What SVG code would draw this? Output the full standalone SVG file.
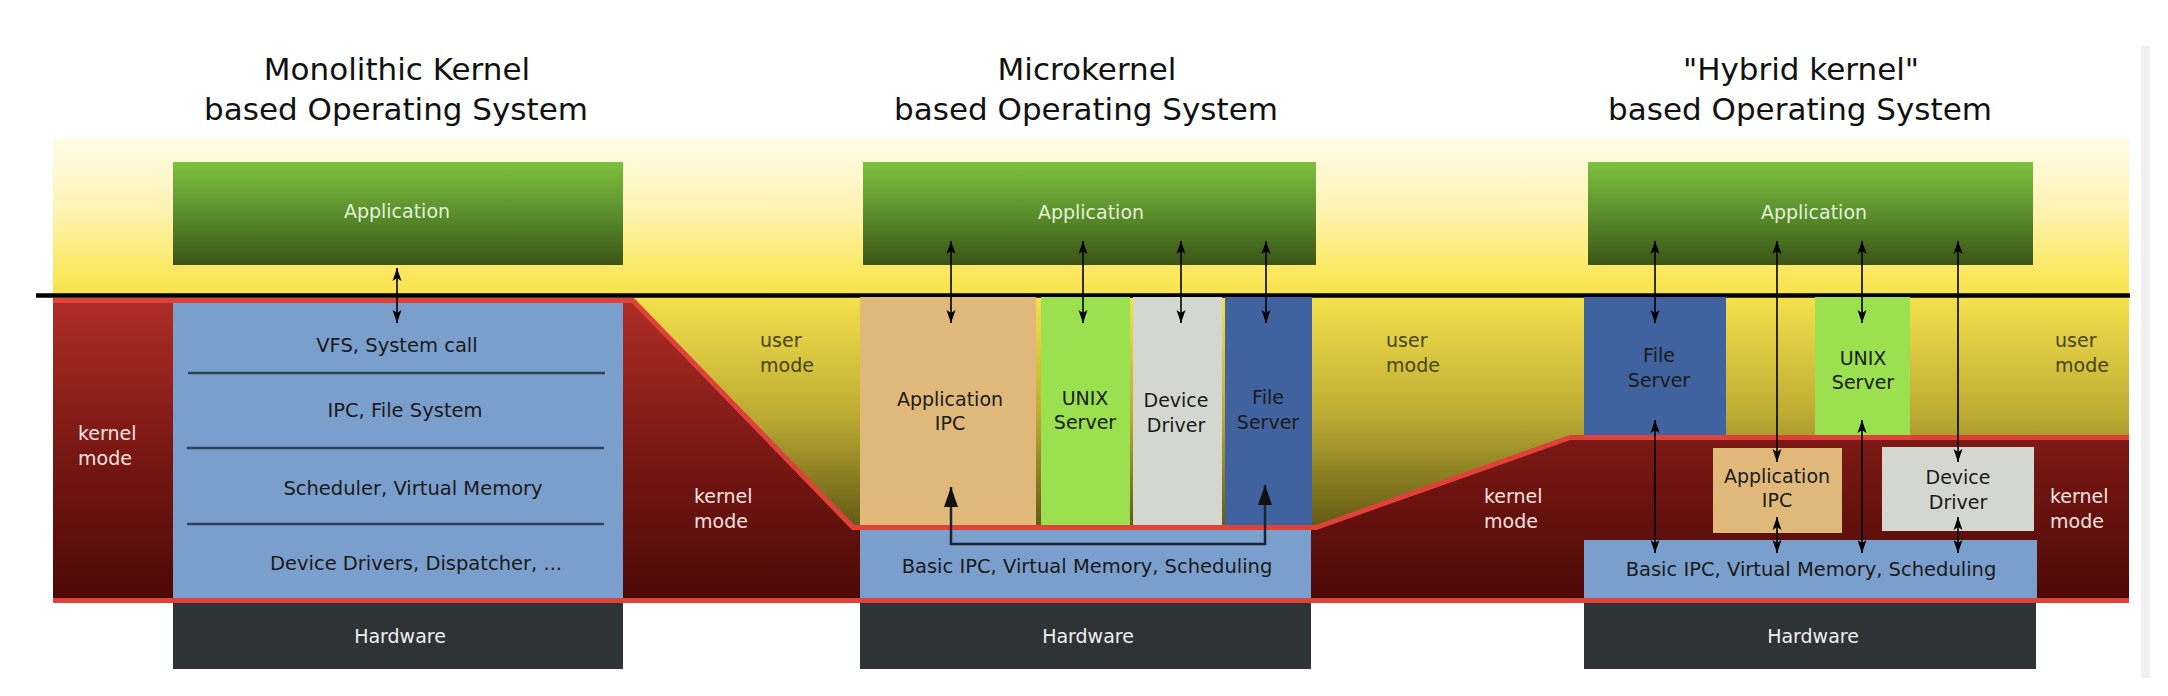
<svg xmlns="http://www.w3.org/2000/svg" width="2168" height="696" viewBox="0 0 2168 696">
<style>
text{font-family:"DejaVu Sans","Liberation Sans",sans-serif}
.title{font-size:31px;fill:#111;text-anchor:middle}
.lbl{font-size:19px;fill:#1a1a1a;text-anchor:middle}
.blbl{font-size:19.5px;fill:#1a1a1a;text-anchor:middle}
.app{font-size:19px;fill:#e4f0d6;text-anchor:middle}
.hw{font-size:19px;fill:#eeeeec;text-anchor:middle}
.um{font-size:19px;fill:#47431a}
.km{font-size:19px;fill:#f2e2e0}
.kernel{fill:#7b9fcc}
.hwbox{fill:#2e3436}
.appbox{fill:url(#green)}
.ipc{fill:#e0b97a}
.unix{fill:#9ae04f}
.dev{fill:#d3d7cf}
.fs{fill:#40629f}
.sep{stroke:#2f4358;stroke-width:2.5}
.arr{stroke:#000;stroke-width:1.6;fill:none;marker-start:url(#ah);marker-end:url(#ah)}
.big{stroke:#1b2434;stroke-width:2.5;fill:none;marker-start:url(#bh);marker-end:url(#bh)}
</style>
<defs>
<linearGradient id="yel" gradientUnits="userSpaceOnUse" x1="0" y1="138" x2="0" y2="600">
<stop offset="0" stop-color="#fffce8"/>
<stop offset="0.15" stop-color="#fdf4b5"/>
<stop offset="0.3" stop-color="#fbe75a"/>
<stop offset="0.34" stop-color="#f6e24c"/>
<stop offset="0.6" stop-color="#bcab33"/>
<stop offset="0.86" stop-color="#5c5412"/>
<stop offset="1" stop-color="#4a440e"/>
</linearGradient>
<linearGradient id="red" gradientUnits="userSpaceOnUse" x1="0" y1="297" x2="0" y2="600">
<stop offset="0" stop-color="#b02d27"/>
<stop offset="0.5" stop-color="#7a1813"/>
<stop offset="1" stop-color="#4c0907"/>
</linearGradient>
<linearGradient id="green" x1="0" y1="0" x2="0" y2="1">
<stop offset="0" stop-color="#7dc13e"/>
<stop offset="0.5" stop-color="#5a8e2c"/>
<stop offset="1" stop-color="#3a5416"/>
</linearGradient>
<marker id="ah" markerUnits="userSpaceOnUse" markerWidth="16" markerHeight="12" viewBox="-14 -6 16 12" refX="0" refY="0" orient="auto-start-reverse">
<path d="M0,0 L-13,-4.5 L-10,0 L-13,4.5 Z" fill="#000"/>
</marker>
<marker id="bh" markerUnits="userSpaceOnUse" markerWidth="24" markerHeight="18" viewBox="-22 -9 24 18" refX="0" refY="0" orient="auto-start-reverse">
<path d="M0,0 L-20,-7 L-20,7 Z" fill="#111"/>
</marker>
</defs>
<rect width="2168" height="696" fill="#fff"/>
<rect x="2141" y="46" width="9" height="632" fill="#f0f0f0"/>
<g id="background">
<rect x="53" y="138" width="2076" height="462" fill="url(#yel)"/>
<polygon points="53,300 633,300 853,527.5 1316,527.5 1570,437.5 2129,437.5 2129,601 53,601" fill="url(#red)"/>
<polyline points="53,300.5 633,300.5 853,527.5 1316,527.5 1570,437.5 2129,437.5" fill="none" stroke="#e0423a" stroke-width="5"/>
<line x1="53" y1="600.5" x2="2129" y2="600.5" stroke="#e0423a" stroke-width="5"/>
<line x1="36" y1="295.5" x2="2130" y2="295.5" stroke="#000" stroke-width="4.4"/>
</g>
<g id="titles">
<text class="title" x="397" y="80">Monolithic Kernel</text>
<text class="title" x="396" y="120">based Operating System</text>
<text class="title" x="1087" y="80">Microkernel</text>
<text class="title" x="1086" y="120">based Operating System</text>
<text class="title" x="1801" y="80">"Hybrid kernel"</text>
<text class="title" x="1800" y="120">based Operating System</text>
</g>
<g id="mode-labels">
<text class="km" x="78" y="440">kernel</text>
<text class="km" x="78" y="465">mode</text>
<text class="km" x="694" y="503">kernel</text>
<text class="km" x="694" y="528">mode</text>
<text class="um" x="760" y="347">user</text>
<text class="um" x="760" y="372">mode</text>
<text class="um" x="1386" y="347">user</text>
<text class="um" x="1386" y="372">mode</text>
<text class="km" x="1484" y="503">kernel</text>
<text class="km" x="1484" y="528">mode</text>
<text class="um" x="2055" y="347">user</text>
<text class="um" x="2055" y="372">mode</text>
<text class="km" x="2050" y="503">kernel</text>
<text class="km" x="2050" y="528">mode</text>
</g>
<!-- Monolithic -->
<g id="mono-app"><rect class="appbox" x="173" y="162" width="450" height="103"/><text class="app" x="397" y="218">Application</text></g>
<g id="mono-kernel">
<rect class="kernel" x="173" y="303" width="450" height="295"/>
<line class="sep" x1="188" y1="373" x2="605" y2="373"/>
<line class="sep" x1="187" y1="448" x2="604" y2="448"/>
<line class="sep" x1="187" y1="524" x2="604" y2="524"/>
<text class="blbl" x="397" y="352">VFS, System call</text>
<text class="blbl" x="405" y="417">IPC, File System</text>
<text class="blbl" x="413" y="495">Scheduler, Virtual Memory</text>
<text class="blbl" x="416" y="570">Device Drivers, Dispatcher, ...</text>
</g>
<g id="mono-hw"><rect class="hwbox" x="173" y="603" width="450" height="66"/><text class="hw" x="400" y="643">Hardware</text></g>
<!-- Microkernel -->
<g id="micro-app"><rect class="appbox" x="863" y="162" width="453" height="103"/><text class="app" x="1091" y="219">Application</text></g>
<g id="micro-ipc"><rect class="ipc" x="860" y="297" width="176" height="228"/><text class="lbl" x="950" y="406">Application</text><text class="lbl" x="950" y="430">IPC</text></g>
<g id="micro-unix"><rect class="unix" x="1041" y="297" width="89" height="228"/><text class="lbl" x="1085" y="405">UNIX</text><text class="lbl" x="1085" y="429">Server</text></g>
<g id="micro-dev"><rect class="dev" x="1133" y="297" width="89" height="228"/><text class="lbl" x="1176" y="407">Device</text><text class="lbl" x="1176" y="432">Driver</text></g>
<g id="micro-fs"><rect class="fs" x="1225" y="297" width="87" height="228"/><text class="lbl" x="1268" y="404">File</text><text class="lbl" x="1268" y="429">Server</text></g>
<g id="micro-kernel"><rect class="kernel" x="860" y="530" width="451" height="68"/><text class="blbl" x="1087" y="573">Basic IPC, Virtual Memory, Scheduling</text></g>
<g id="micro-hw"><rect class="hwbox" x="860" y="603" width="451" height="66"/><text class="hw" x="1088" y="643">Hardware</text></g>
<!-- Hybrid -->
<g id="hyb-app"><rect class="appbox" x="1588" y="162" width="445" height="103"/><text class="app" x="1814" y="219">Application</text></g>
<g id="hyb-fs"><rect class="fs" x="1584" y="297" width="142" height="138"/><text class="lbl" x="1659" y="362">File</text><text class="lbl" x="1659" y="387">Server</text></g>
<g id="hyb-unix"><rect class="unix" x="1815" y="297" width="95" height="138"/><text class="lbl" x="1863" y="365">UNIX</text><text class="lbl" x="1863" y="389">Server</text></g>
<g id="hyb-ipc"><rect class="ipc" x="1713" y="448" width="129" height="85"/><text class="lbl" x="1777" y="483">Application</text><text class="lbl" x="1777" y="507">IPC</text></g>
<g id="hyb-dev"><rect class="dev" x="1882" y="447" width="152" height="84"/><text class="lbl" x="1958" y="484">Device</text><text class="lbl" x="1958" y="509">Driver</text></g>
<g id="hyb-kernel"><rect class="kernel" x="1584" y="540" width="453" height="58"/><text class="blbl" x="1811" y="576">Basic IPC, Virtual Memory, Scheduling</text></g>
<g id="hyb-hw"><rect class="hwbox" x="1584" y="603" width="452" height="66"/><text class="hw" x="1813" y="643">Hardware</text></g>
<g id="connectors">
<line class="arr" x1="397" y1="268" x2="397" y2="323"/>
<line class="arr" x1="951" y1="241" x2="951" y2="323"/>
<line class="arr" x1="1083" y1="241" x2="1083" y2="323"/>
<line class="arr" x1="1181" y1="241" x2="1181" y2="323"/>
<line class="arr" x1="1266" y1="241" x2="1266" y2="323"/>
<path class="big" d="M951,487 L951,544 L1265,544 L1265,485"/>
<line class="arr" x1="1655" y1="241" x2="1655" y2="323"/>
<line class="arr" x1="1777" y1="241" x2="1777" y2="462"/>
<line class="arr" x1="1862" y1="241" x2="1862" y2="323"/>
<line class="arr" x1="1958" y1="241" x2="1958" y2="462"/>
<line class="arr" x1="1655" y1="420" x2="1655" y2="553"/>
<line class="arr" x1="1777" y1="517" x2="1777" y2="553"/>
<line class="arr" x1="1862" y1="420" x2="1862" y2="553"/>
<line class="arr" x1="1958" y1="517" x2="1958" y2="553"/>
</g>
</svg>
